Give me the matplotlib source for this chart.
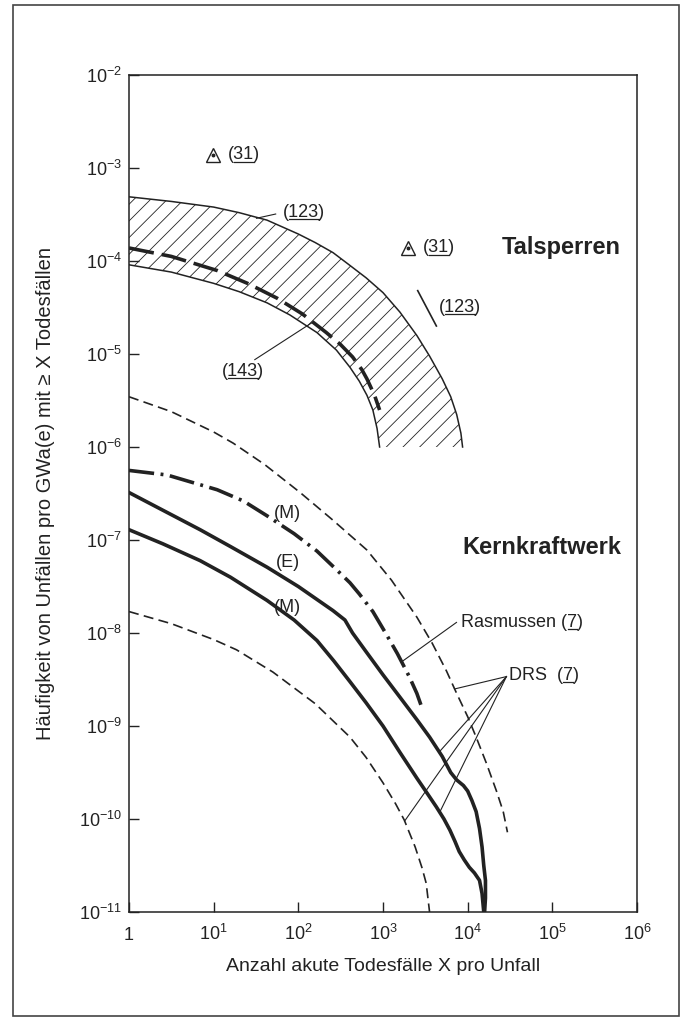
import numpy as np
import matplotlib
matplotlib.use('Agg')
import matplotlib.pyplot as plt
from matplotlib.lines import Line2D
from matplotlib.patches import Rectangle
from matplotlib.ticker import NullLocator

plt.rcParams['font.family'] = ['Liberation Sans', 'DejaVu Sans']
plt.rcParams['mathtext.fontset'] = 'custom'
plt.rcParams['mathtext.rm'] = 'Liberation Sans'
plt.rcParams['mathtext.it'] = 'Liberation Sans:italic'
plt.rcParams['mathtext.bf'] = 'Liberation Sans:bold'
plt.rcParams['hatch.linewidth'] = 0.6

INK = '#222222'

# --- Talsperren (dams) ---
band_top_x = [1, 3.16, 10, 20, 42.7, 100, 158, 257, 398, 631, 1000, 1585, 2512,
              3548, 5012, 6310, 7413, 8318, 8710]
band_top_y = [4.9e-4, 4.37e-4, 3.8e-4, 3.31e-4, 2.75e-4, 1.95e-4, 1.58e-4,
              1.23e-4, 9.1e-5, 6.6e-5, 4.57e-5, 2.82e-5, 1.58e-5, 9.5e-6,
              5.4e-6, 3.47e-6, 2.24e-6, 1.41e-6, 1.0e-6]
band_low_x = [1, 3.16, 10, 20, 42.7, 79.4, 166, 282, 407, 525, 646, 759, 851, 912]
band_low_y = [9.1e-5, 7.6e-5, 5.75e-5, 4.68e-5, 3.55e-5, 2.63e-5, 1.70e-5,
              1.10e-5, 7.2e-6, 5.1e-6, 3.6e-6, 2.5e-6, 1.58e-6, 1.0e-6]
dam143_x = [1, 3.16, 11, 25.1, 56.2, 112, 214, 316, 437, 562, 646, 794, 912]
dam143_y = [1.38e-4, 1.12e-4, 7.9e-5, 5.75e-5, 3.98e-5, 2.69e-5, 1.70e-5,
            1.26e-5, 9.3e-6, 6.8e-6, 5.4e-6, 3.6e-6, 2.5e-6]
tri_x = [9.8, 2000]
tri_y = [1.38e-3, 1.38e-4]
seg123_x = [2570, 4270]
seg123_y = [4.8e-5, 2.0e-5]

# --- Kernkraftwerk (nuclear) ---
drs_up_x = [1, 3.16, 10, 17, 39.8, 105, 251, 646, 1259, 2512, 3802, 5623, 7413,
            10000, 12590, 16600, 21880, 26300, 29510]
drs_up_y = [3.47e-6, 2.4e-6, 1.45e-6, 1.1e-6, 6.5e-7, 3.24e-7, 1.66e-7, 7.8e-8,
            3.7e-8, 1.48e-8, 7.8e-9, 3.9e-9, 2.24e-9, 1.26e-9, 7.6e-10, 4.0e-10,
            2.0e-10, 1.2e-10, 7.2e-11]
drs_low_x = [1, 3.16, 10, 18.6, 50.1, 158, 407, 631, 1000, 1413, 1778, 2399,
             2884, 3236, 3548]
drs_low_y = [1.7e-8, 1.26e-8, 8.5e-9, 6.6e-9, 3.8e-9, 1.74e-9, 7.6e-10, 4.6e-10,
             2.45e-10, 1.45e-10, 9.8e-11, 5.0e-11, 3.0e-11, 2.04e-11, 1e-11]
drs_e_x = [1, 2.51, 6.92, 15.8, 42.7, 100, 257, 355, 437, 631, 1000, 1585, 2512,
           3548, 5012, 6310, 7413, 8913, 10000, 11220, 12590, 13800, 14790,
           15490, 16220, 16220, 15850]
drs_e_y = [3.24e-7, 2.09e-7, 1.29e-7, 8.5e-8, 5.1e-8, 3.16e-8, 1.74e-8, 1.38e-8,
           1.0e-8, 6.3e-9, 3.55e-9, 2.04e-9, 1.17e-9, 7.6e-10, 4.7e-10, 3.16e-10,
           2.63e-10, 2.29e-10, 2.0e-10, 1.58e-10, 1.2e-10, 7.9e-11, 5.0e-11,
           3.16e-11, 2.19e-11, 1.41e-11, 1e-11]
drs_m_x = [1, 2.51, 6.92, 15.8, 42.7, 89.1, 166, 263, 407, 631, 1000, 1585,
           2512, 3311, 4266, 5248, 6166, 7079, 7943, 9120, 10470, 12020, 13800,
           14790, 15490]
drs_m_y = [1.29e-7, 9.1e-8, 6.0e-8, 3.98e-8, 2.24e-8, 1.38e-8, 8.3e-9, 5.0e-9,
           3.0e-9, 1.78e-9, 1.0e-9, 5.2e-10, 2.75e-10, 1.9e-10, 1.35e-10,
           1.0e-10, 7.6e-11, 5.75e-11, 4.47e-11, 3.63e-11, 3.02e-11, 2.63e-11,
           2.19e-11, 1.58e-11, 1e-11]
ras_x = [1, 2.82, 11, 22.4, 42.7, 89.1, 166, 282, 407, 525, 759, 1072, 1479,
         2042, 2512, 2951]
ras_y = [5.6e-7, 5.0e-7, 3.47e-7, 2.63e-7, 1.82e-7, 1.17e-7, 7.6e-8, 4.8e-8,
         3.47e-8, 2.63e-8, 1.7e-8, 1.0e-8, 6.0e-9, 3.4e-9, 2.24e-9, 1.48e-9]

x_ticks = [1, 1e1, 1e2, 1e3, 1e4, 1e5, 1e6]
x_ticklabels = ['1', '$10^1$', '$10^2$', '$10^3$', '$10^4$', '$10^5$', '$10^6$']
y_ticks = [10.0 ** -k for k in range(11, 1, -1)]
y_ticklabels = ['$10^{-%d}$' % k for k in range(11, 1, -1)]

fig = plt.figure(figsize=(6.84, 10.21), dpi=100)
ax = fig.add_axes([129 / 684, 109 / 1021, 508 / 684, 837 / 1021])
ax.set_xscale('log')
ax.set_yscale('log')
ax.set_xlim(1, 1e6)
ax.set_ylim(1e-11, 1e-2)

# hatched band
bx = np.concatenate([band_top_x, band_low_x[::-1]])
by = np.concatenate([band_top_y, band_low_y[::-1]])
ax.fill(bx, by, facecolor='none', edgecolor=INK, hatch='//', linewidth=0)
ax.plot(band_top_x, band_top_y, color=INK, lw=1.1)
ax.plot(band_low_x, band_low_y, color=INK, lw=1.1)
ax.plot(dam143_x, dam143_y, color=INK, lw=2.6, ls=(0, (7, 2.2)))
ax.plot(tri_x, tri_y, ls='none', marker='^', ms=10, mfc='white', mec=INK, mew=1)
ax.plot(tri_x, tri_y, ls='none', marker='o', ms=1.8, color=INK)
ax.plot(seg123_x, seg123_y, color=INK, lw=1.2)

# nuclear curves
ax.plot(drs_up_x, drs_up_y, color=INK, lw=1.2, ls=(0, (6, 3.2)))
ax.plot(drs_low_x, drs_low_y, color=INK, lw=1.2, ls=(0, (6, 3.2)))
ax.plot(drs_e_x, drs_e_y, color=INK, lw=2.6)
ax.plot(drs_m_x, drs_m_y, color=INK, lw=2.6)
ax.plot(ras_x, ras_y, color=INK, lw=2.6, ls=(0, (7, 1.8, 0.8, 1.8)))

# leader lines
leaders = [
    ([54, 32], [3.2e-4, 2.88e-4]),
    ([30.6, 148], [8.7e-6, 2.2e-5]),
    ([7380, 1660], [1.3e-8, 4.9e-9]),
    ([28700, 6980], [3.4e-9, 2.5e-9]),
    ([28700, 4650], [3.4e-9, 5.3e-10]),
    ([28700, 4650], [3.4e-9, 1.17e-10]),
    ([28700, 1800], [3.4e-9, 9.5e-11]),
]
for lx, ly in leaders:
    ax.plot(lx, ly, color=INK, lw=0.8)

underlines = []


def label(x, y, pre, num='', post='', size=13, ha='left'):
    t = ax.text(x, y, pre + num + post, fontsize=size, ha=ha, va='center',
                color=INK)
    if num:
        underlines.append((t, pre, num))
    return t


label(14.7, 1.38e-3, '(', '31', ')')
label(2930, 1.38e-4, '(', '31', ')')
label(65, 3.3e-4, '(', '123', ')')
label(4530, 3.2e-5, '(', '123', ')')
label(12.5, 6.5e-6, '(', '143', ')')
label(75, 1.95e-7, '(M)', ha='center')
label(75, 5.8e-8, '(E)', ha='center')
label(75, 1.9e-8, '(M)', ha='center')
label(8450, 1.3e-8, 'Rasmussen (', '7', ')')
label(31000, 3.5e-9, 'DRS  (', '7', ')')

ax.text(6.5e5, 1.38e-4, 'Talsperren', fontsize=17, fontweight='bold',
        ha='right', va='center', color=INK)
ax.text(6.5e5, 8.4e-8, 'Kernkraftwerk', fontsize=17, fontweight='bold',
        ha='right', va='center', color=INK)

# axes styling
for s in ax.spines.values():
    s.set_linewidth(1.1)
    s.set_color(INK)
ax.set_xticks(x_ticks)
ax.set_xticklabels(x_ticklabels)
ax.set_yticks(y_ticks)
ax.set_yticklabels(y_ticklabels)
ax.xaxis.set_minor_locator(NullLocator())
ax.yaxis.set_minor_locator(NullLocator())
ax.tick_params(direction='in', length=7, width=1, color=INK, labelsize=13,
               labelcolor=INK, top=False, right=False)
ax.tick_params(axis='x', pad=20)
ax.tick_params(axis='y', pad=5)
for lab in ax.get_xticklabels():
    lab.set_verticalalignment('baseline')
for lab in ax.get_yticklabels():
    lab.set_verticalalignment('center_baseline')

ax.set_xlabel('Anzahl akute Todesfälle X pro Unfall', fontsize=14, color=INK)
ax.xaxis.set_label_coords(0.5, -0.055)
ax.set_ylabel('Häufigkeit von Unfällen pro GWa(e) mit ≥ X Todesfällen',
              fontsize=14.5, color=INK)
ax.yaxis.set_label_coords(-0.146, 0.5)

# outer frame
fig.add_artist(Rectangle((13 / 684, 5 / 1021), 666 / 684, 1011 / 1021,
                         transform=fig.transFigure, fill=False, lw=1.2,
                         edgecolor='#444444'))

# underlined reference numbers
r = fig.canvas.get_renderer()
inv = fig.transFigure.inverted()
for t, pre, num in underlines:
    fp = t.get_fontproperties()
    w0 = r.get_text_width_height_descent(pre, fp, ismath=False)[0]
    w1 = r.get_text_width_height_descent(pre + num, fp, ismath=False)[0]
    d = r.get_text_width_height_descent(pre + num + ')', fp, ismath=False)[2]
    bb = t.get_window_extent(renderer=r)
    yb = bb.y0 + d - 2.2
    p0 = inv.transform((bb.x0 + w0, yb))
    p1 = inv.transform((bb.x0 + w1, yb))
    fig.add_artist(Line2D([p0[0], p1[0]], [p0[1], p1[1]],
                          transform=fig.transFigure, color=INK, lw=0.9))

fig.savefig('out.png', dpi=100, facecolor='white')
